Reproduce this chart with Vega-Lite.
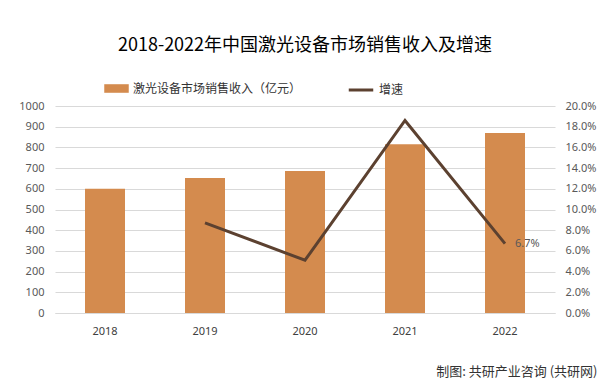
{
  "$schema": "https://vega.github.io/schema/vega-lite/v6.json",
  "autosize": {"type": "none"},
  "width": 500,
  "height": 207,
  "padding": {"left": 55, "top": 106, "right": 59, "bottom": 75},
  "background": "#ffffff",
  "title": {
    "text": "2018-2022年中国激光设备市场销售收入及增速",
    "font": "Noto Sans CJK SC",
    "fontSize": 18,
    "fontWeight": "normal",
    "color": "#000000",
    "anchor": "middle",
    "offset": 21
  },
  "data": {
    "values": [
      {"year": "2018", "revenue": 600, "growth": null},
      {"year": "2019", "revenue": 652, "growth": 0.087},
      {"year": "2020", "revenue": 686, "growth": 0.051},
      {"year": "2021", "revenue": 815, "growth": 0.186},
      {"year": "2022", "revenue": 870, "growth": 0.067}
    ]
  },
  "encoding": {
    "x": {
      "field": "year",
      "type": "nominal",
      "sort": null,
      "scale": {"paddingInner": 0.6, "paddingOuter": 0.3},
      "axis": {
        "labelAngle": 0,
        "labelFont": "Noto Sans",
        "labelFontSize": 11,
        "labelColor": "#404040",
        "labelPadding": 12,
        "ticks": false,
        "domainColor": "#D9D9D9",
        "title": "制图: 共研产业咨询 (共研网)",
        "titleFont": "Noto Sans CJK SC",
        "titleFontSize": 13,
        "titleFontWeight": "normal",
        "titleColor": "#333333",
        "titleAnchor": "end",
        "titleAlign": "right",
        "titleBaseline": "alphabetic",
        "titleX": 542,
        "titleY": 62
      }
    }
  },
  "layer": [
    {
      "mark": {"type": "bar"},
      "encoding": {
        "y": {
          "field": "revenue",
          "type": "quantitative",
          "scale": {"domain": [0, 1000]},
          "axis": {
            "title": null,
            "format": "d",
            "values": [0, 100, 200, 300, 400, 500, 600, 700, 800, 900, 1000],
            "labelFont": "Noto Sans",
            "labelFontSize": 11,
            "labelColor": "#595959",
            "labelPadding": 11,
            "ticks": false,
            "domain": false,
            "gridColor": "#D9D9D9",
            "grid": true
          }
        },
        "fill": {
          "datum": "激光设备市场销售收入（亿元）",
          "scale": {"range": ["#D48B4E"]},
          "legend": {
            "title": null,
            "orient": "none",
            "legendX": 49,
            "legendY": -30,
            "symbolType": "M-1,-0.35H1V0.35H-1Z",
            "symbolSize": 600,
            "symbolStrokeWidth": 0,
            "labelFont": "Noto Sans CJK SC",
            "labelFontSize": 12,
            "labelColor": "#333333",
            "labelLimit": 300
          }
        }
      }
    },
    {
      "transform": [{"filter": "datum.growth != null"}],
      "encoding": {
        "y": {
          "field": "growth",
          "type": "quantitative",
          "scale": {"domain": [0, 0.2]},
          "axis": {
            "title": null,
            "orient": "right",
            "format": ".1%",
            "values": [0, 0.02, 0.04, 0.06, 0.08, 0.1, 0.12, 0.14, 0.16, 0.18, 0.2],
            "labelFont": "Noto Sans",
            "labelFontSize": 11,
            "labelColor": "#595959",
            "labelPadding": 10,
            "ticks": false,
            "domain": false,
            "grid": false
          }
        }
      },
      "layer": [
        {
          "mark": {"type": "line", "strokeWidth": 3},
          "encoding": {
            "stroke": {
              "datum": "增速",
              "scale": {"range": ["#5C4130"]},
              "legend": {
                "title": null,
                "orient": "none",
                "legendX": 292,
                "legendY": -30,
                "symbolType": "stroke",
                "symbolSize": 600,
                "symbolStrokeWidth": 3,
                "labelFont": "Noto Sans CJK SC",
                "labelFontSize": 12,
                "labelColor": "#333333"
              }
            }
          }
        },
        {
          "transform": [{"filter": "datum.year == '2022'"}],
          "mark": {"type": "text", "align": "left", "dx": 10, "font": "Noto Sans", "fontSize": 11, "color": "#595959"},
          "encoding": {
            "text": {"field": "growth", "type": "quantitative", "format": ".1%"}
          }
        }
      ]
    }
  ],
  "resolve": {"scale": {"y": "independent"}},
  "config": {"view": {"stroke": null}}
}
